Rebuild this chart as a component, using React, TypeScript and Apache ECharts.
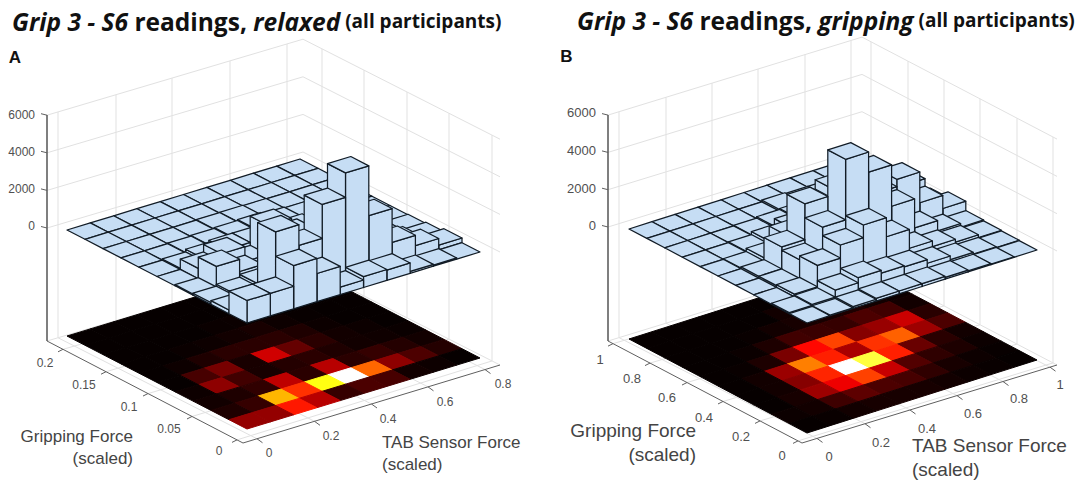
import React, { useEffect, useRef } from "react";
import * as echarts from "echarts";

const relaxedCounts = [
  [1200, 1200, 2300, 1500, 400, 580, 550, 100, 60, 0],
  [200, 400, 3600, 2500, 4300, 5600, 2950, 1150, 600, 250],
  [100, 200, 350, 1550, 300, 1500, 300, 400, 250, 100],
  [60, 1150, 500, 150, 250, 300, 200, 100, 80, 30],
  [0, 550, 950, 150, 1700, 800, 300, 100, 50, 0],
  [0, 60, 200, 300, 300, 300, 200, 50, 0, 0],
  [0, 0, 30, 60, 100, 150, 60, 20, 0, 0],
  [0, 0, 0, 0, 30, 40, 20, 0, 0, 0],
  [0, 0, 0, 0, 0, 0, 0, 0, 0, 0],
  [0, 0, 0, 0, 0, 0, 0, 0, 0, 0],
];
const grippingCounts = [
  [0, 30, 100, 150, 150, 150, 100, 50, 30, 0],
  [50, 100, 480, 750, 600, 550, 350, 150, 60, 20],
  [0, 150, 1300, 2000, 2680, 1660, 650, 350, 200, 50],
  [0, 100, 1100, 2450, 5700, 4620, 2400, 850, 300, 100],
  [0, 100, 1280, 3200, 2400, 1400, 2560, 2950, 1300, 600],
  [0, 30, 200, 1000, 2200, 2700, 1100, 1250, 1700, 300],
  [0, 0, 40, 200, 500, 450, 400, 600, 500, 100],
  [0, 0, 0, 30, 100, 150, 150, 200, 100, 50],
  [0, 0, 0, 0, 0, 100, 50, 50, 0, 0],
  [0, 0, 0, 0, 0, 0, 0, 0, 0, 0],
];
const zTickLabels = ["0", "2000", "4000", "6000"];
const relaxedXTicks = ["0", "0.2", "0.4", "0.6", "0.8"];
const relaxedYTicks = ["0.2", "0.15", "0.1", "0.05", "0"];
const grippingXTicks = ["0", "0.2", "0.4", "0.6", "0.8", "1"];
const grippingYTicks = ["1", "0.8", "0.6", "0.4", "0.2", "0"];

type P = [number, number];

const panelA = {
  counts: relaxedCounts,
  plane: [247, 323] as P,
  floor: [247, 429] as P,
  iStep: [23.3, -7.1] as P,
  jStep: [-18, -9.3] as P,
  zPerUnit: 37.6 / 2000,
  axisTop: [47, 115] as P,
  L: [47, 341] as P,
  B: [243, 443] as P,
  R: [500, 365] as P,
  T: [303, 265] as P,
  zeroAbove: 113,
  leftX: [58, 116, 172, 230, 287],
  rightX: [322, 364, 407, 449, 492],
  xTickX: [257, 314.5, 371.5, 428, 485],
  yTickX: [63, 106, 148, 192, 237],
  xLabels: relaxedXTicks,
  yLabels: relaxedYTicks,
  xLabelPos: [[269, 453], [331, 436], [388, 419], [445, 402], [503, 384]],
  yLabelPos: [[45, 363], [84, 385], [129, 407], [169, 429], [219, 451]],
  zLabelRight: 35,
  zLabelY: [226, 189, 152, 115],
  tickFont: 12,
};
const panelB = {
  counts: grippingCounts,
  plane: [807, 323] as P,
  floor: [807, 433] as P,
  iStep: [23, -7.3] as P,
  jStep: [-17.8, -9.4] as P,
  zPerUnit: 37.3 / 2000,
  axisTop: [608, 115] as P,
  L: [608, 341] as P,
  B: [802, 443] as P,
  R: [1057, 365] as P,
  T: [862, 263] as P,
  zeroAbove: 114,
  leftX: [619, 666, 712, 758, 805, 851],
  rightX: [871, 908, 944, 980, 1017, 1053],
  xTickX: [817, 865, 910, 957, 1003, 1050],
  yTickX: [613, 650, 687, 723, 760, 798],
  xLabels: grippingXTicks,
  yLabels: grippingYTicks,
  xLabelPos: [[829, 456], [881, 442], [927, 428], [973, 413], [1019, 398], [1060, 384]],
  yLabelPos: [[600, 359], [632, 378], [667, 397], [704, 417], [741, 436], [782, 455]],
  zLabelRight: 596,
  zLabelY: [225, 188, 150, 112],
  tickFont: 13,
};
type Panel = typeof panelA;

const GRID = "#e1e1e1";
const AXIS = "#5f5f5f";
const BAR = "#c6ddf4";
const EDGE = "#121c26";
const LABEL = "#505050";
const SANS = "Liberation Sans";

const clamp = (v: number) => Math.max(0, Math.min(1, v));
function hot(f: number) {
  const r = 6 + 249 * clamp(f / 0.375);
  const g = 255 * clamp((f - 0.375) / 0.375);
  const b = 255 * clamp((f - 0.75) / 0.25);
  return `rgb(${Math.round(r)},${Math.round(g)},${Math.round(b)})`;
}
const lerpY = (a: P, b: P, x: number) => a[1] + ((x - a[0]) * (b[1] - a[1])) / (b[0] - a[0]);

function project(p: Panel, origin: P, i: number, j: number, lift = 0): P {
  return [
    origin[0] + p.iStep[0] * i + p.jStep[0] * j,
    origin[1] + p.iStep[1] * i + p.jStep[1] * j - lift,
  ];
}

function cellsOf(p: Panel) {
  const out: number[][] = [];
  p.counts.forEach((row, j) => row.forEach((h, i) => out.push([i, j, h])));
  return out.sort((a, b) => b[0] + b[1] - (a[0] + a[1]));
}

function barSeries(p: Panel) {
  return {
    type: "custom",
    silent: true,
    z: 3,
    clip: false,
    data: cellsOf(p),
    renderItem: (_: any, api: any) => {
      const i = api.value(0), j = api.value(1), h = api.value(2);
      const lift = h * p.zPerUnit;
      const pt = (a: number, b: number, l: number) => api.coord(project(p, p.plane, a, b, l));
      const style = { fill: BAR, stroke: EDGE, lineWidth: 1.25, lineJoin: "round" };
      const children: any[] = [];
      if (h > 0) {
        children.push({
          type: "polygon",
          shape: { points: [pt(i, j, 0), pt(i + 1, j, 0), pt(i + 1, j, lift), pt(i, j, lift)] },
          style,
        });
        children.push({
          type: "polygon",
          shape: { points: [pt(i, j, 0), pt(i, j + 1, 0), pt(i, j + 1, lift), pt(i, j, lift)] },
          style,
        });
      }
      children.push({
        type: "polygon",
        shape: { points: [pt(i, j, lift), pt(i + 1, j, lift), pt(i + 1, j + 1, lift), pt(i, j + 1, lift)] },
        style,
      });
      return { type: "group", children };
    },
  };
}

function floorSeries(p: Panel) {
  const peak = Math.max(...p.counts.flat());
  return {
    type: "custom",
    silent: true,
    z: 2,
    clip: false,
    data: cellsOf(p),
    renderItem: (_: any, api: any) => {
      const i = api.value(0), j = api.value(1), h = api.value(2);
      const pt = (a: number, b: number) => api.coord(project(p, p.floor, a, b));
      const color = hot(h / peak);
      return {
        type: "polygon",
        shape: { points: [pt(i, j), pt(i + 1, j), pt(i + 1, j + 1), pt(i, j + 1)] },
        style: { fill: color, stroke: color, lineWidth: 1 },
      };
    },
  };
}

function frameSeries(p: Panel) {
  const seg: { a: P; b: P; c: string; w: number }[] = [];
  const steps = [0, 1, 2, 3];
  const zStep = 2000 * p.zPerUnit;
  const topLift = p.zeroAbove + 3 * zStep;
  const add = (a: P, b: P, c: string, w: number) => seg.push({ a, b, c, w });
  steps.forEach((k) => {
    const up = p.zeroAbove + k * zStep;
    add([p.L[0], p.L[1] - up], [p.T[0], p.T[1] - up], GRID, 1);
    add([p.T[0], p.T[1] - up], [p.R[0], p.R[1] - up], GRID, 1);
  });
  p.leftX.forEach((x, n) => {
    const y = lerpY(p.L, p.T, x);
    add([x, y], [x, y - topLift], GRID, 1);
    const tx = p.xTickX[n];
    add([x, y], [tx, lerpY(p.B, p.R, tx)], GRID, 1);
  });
  p.rightX.forEach((x, n) => {
    const y = lerpY(p.T, p.R, x);
    add([x, y], [x, y - topLift], GRID, 1);
    const tx = p.yTickX[n];
    add([x, y], [tx, lerpY(p.L, p.B, tx)], GRID, 1);
  });
  add(p.L, p.T, GRID, 1);
  add(p.T, p.R, GRID, 1);
  add(p.axisTop, p.L, AXIS, 1.6);
  add(p.L, p.B, AXIS, 1);
  add(p.B, p.R, AXIS, 1);
  steps.forEach((k) => {
    const y = p.L[1] - p.zeroAbove - k * zStep;
    add([p.L[0], y], [p.L[0] - 6, y - 1.5], AXIS, 1);
  });
  p.xTickX.forEach((x) => {
    const y = lerpY(p.B, p.R, x);
    add([x, y], [x + 5.5, y + 4], AXIS, 1);
  });
  p.yTickX.forEach((x) => {
    const y = lerpY(p.L, p.B, x);
    add([x, y], [x - 5, y + 2.5], AXIS, 1);
  });
  return {
    type: "custom",
    silent: true,
    z: 1,
    clip: false,
    data: seg.map((_, n) => [n, 0]),
    renderItem: (params: any, api: any) => {
      const s = seg[params.dataIndex];
      const a = api.coord(s.a), b = api.coord(s.b);
      return {
        type: "line",
        shape: { x1: a[0], y1: a[1], x2: b[0], y2: b[1] },
        style: { stroke: s.c, lineWidth: s.w },
      };
    },
  };
}

const text = (t: string, x: number, y: number, font: string, align: string, fill = LABEL) => ({
  type: "text",
  z: 10,
  silent: true,
  style: { text: t, x, y, font, fill, textAlign: align, textVerticalAlign: "middle", verticalAlign: "middle" },
});

function tickTexts(p: Panel) {
  const font = `${p.tickFont}px "${SANS}"`;
  return [
    ...zTickLabels.map((t, k) => text(t, p.zLabelRight, p.zLabelY[k], font, "right")),
    ...p.xLabels.map((t, k) => text(t, p.xLabelPos[k][0], p.xLabelPos[k][1], font, "center")),
    ...p.yLabels.map((t, k) => text(t, p.yLabelPos[k][0], p.yLabelPos[k][1], font, "center")),
  ];
}

function titleText(state: string, x: number, y: number) {
  const base = { fontFamily: "Open Sans", fontWeight: "bold", fill: "#111", verticalAlign: "middle" };
  return {
    type: "text",
    z: 10,
    silent: true,
    style: {
      x,
      y,
      text: `{a|Grip 3 - S6}{b| readings, }{a|${state}}{c| (all participants)}`,
      textVerticalAlign: "middle",
      verticalAlign: "middle",
      rich: {
        a: { ...base, fontStyle: "italic", fontSize: 24.5 },
        b: { ...base, fontSize: 24.5 },
        c: { ...base, fontSize: 19 },
      },
    },
  };
}

const option: any = {
  animation: false,
  backgroundColor: "#ffffff",
  grid: { left: 0, right: 0, top: 0, bottom: 0 },
  xAxis: { type: "value", min: 0, max: 1084, show: false },
  yAxis: { type: "value", min: 0, max: 488, inverse: true, show: false },
  series: [
    frameSeries(panelA),
    floorSeries(panelA),
    barSeries(panelA),
    frameSeries(panelB),
    floorSeries(panelB),
    barSeries(panelB),
  ],
  graphic: [
    titleText("relaxed", 12, 21),
    titleText("gripping", 577, 20),
    text("A", 15, 57, `bold 17px "${SANS}"`, "center", "#111"),
    text("B", 566.5, 56, `bold 17px "${SANS}"`, "center", "#111"),
    ...tickTexts(panelA),
    ...tickTexts(panelB),
    text("Gripping Force", 133, 436, `17px "${SANS}"`, "right", "#444"),
    text("(scaled)", 133, 458, `17px "${SANS}"`, "right", "#444"),
    text("TAB Sensor Force", 382, 442, `17px "${SANS}"`, "left", "#444"),
    text("(scaled)", 382, 464, `17px "${SANS}"`, "left", "#444"),
    text("Gripping Force", 696, 430, `19px "${SANS}"`, "right", "#444"),
    text("(scaled)", 696, 454, `19px "${SANS}"`, "right", "#444"),
    text("TAB Sensor Force", 912, 445, `19px "${SANS}"`, "left", "#444"),
    text("(scaled)", 912, 469, `19px "${SANS}"`, "left", "#444"),
  ],
};

export default function App() {
  const ref = useRef<HTMLDivElement>(null);
  useEffect(() => {
    document.body.style.margin = "0";
    const chart = echarts.init(ref.current!, undefined, { renderer: "svg" });
    chart.setOption(option);
    return () => chart.dispose();
  }, []);
  return <div ref={ref} style={{ width: 1084, height: 488 }} />;
}
